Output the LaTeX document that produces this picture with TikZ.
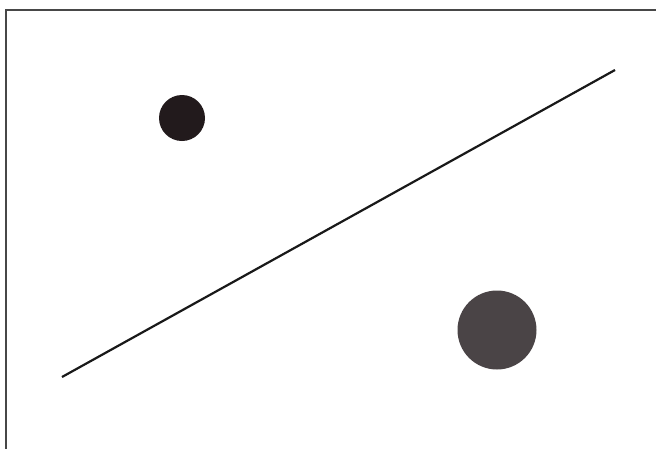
\documentclass[tikz,border=0pt]{standalone}
\begin{document}
\begin{tikzpicture}[x=1pt,y=-1pt,
  framestyle/.style={draw=black!72,line width=2.6pt},
  linestyle/.style={draw=black!90,line width=2.2pt},
  dot/.style={circle,inner sep=0pt,draw=none}]
\definecolor{darkdot}{HTML}{221A1C}
\definecolor{graydot}{HTML}{4A4446}
\useasboundingbox (0,0) rectangle (656,448);
\fill[white] (0,0) rectangle (656,448);
\draw[framestyle] (6,10) rectangle (670,470);
\node[dot,fill=darkdot,minimum size=46pt] (small) at (182,118) {};
\node[dot,fill=graydot,minimum size=79pt] (big) at (497,330) {};
\coordinate (a) at (62,377);
\coordinate (b) at (615,70);
\draw[linestyle] (a) -- (b);
\end{tikzpicture}
\end{document}
